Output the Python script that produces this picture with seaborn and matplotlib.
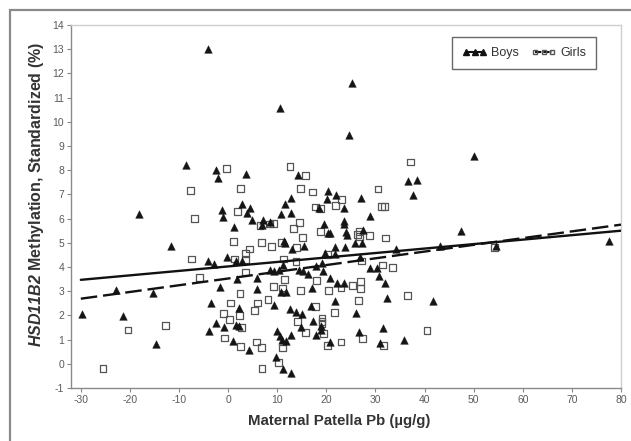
"""Scatter of HSD11B2 methylation against maternal patella lead, boys vs girls."""
import pandas as pd
import matplotlib.pyplot as plt
import seaborn as sns
from matplotlib.lines import Line2D
from matplotlib.patches import Rectangle

# boys: (patella Pb, methylation)
boys_pb = [
    -29.7, -22.9, -21.5, -18.2, -15.3, -14.6, -11.7, -8.5, -4.1, -4.1,
    -2.9, -3.5, -2.5, -3.8, -1.6, -2.4, -2.0, -1.3, -1.0, -0.9,
    -0.2, 1.0, 1.2, 1.7, 2.8, 1.8, 1.7, 2.3, 2.3, 2.9,
    3.7, 3.9, 4.4, 4.8, 4.2, 5.9, 5.9, 6.8, 7.0, 8.6,
    8.5, 9.3, 10.3, 9.3, 10.5, 10.7, 11.5, 12.7, 12.8, 11.1,
    11.3, 11.6, 13.0, 10.8, 11.7, 12.6, 13.9, 15.0, 9.9, 10.5,
    11.0, 11.8, 12.8, 9.7, 11.2, 12.7, 14.3, 14.5, 15.3, 15.5,
    16.2, 16.8, 17.1, 17.2, 14.8, 17.8, 17.8, 18.6, 19.1, 19.3,
    19.0, 18.9, 19.6, 19.8, 20.1, 20.3, 20.3, 20.8, 20.8, 20.8,
    21.7, 21.8, 21.8, 22.0, 22.1, 23.5, 23.5, 23.5, 23.6, 23.7,
    24.1, 24.3, 24.7, 25.3, 25.8, 26.1, 26.7, 26.8, 27.1, 27.2,
    27.4, 28.8, 28.9, 30.3, 30.7, 31.9, 32.3, 31.5, 31.0, 34.2,
    35.8, 36.6, 37.7, 38.5, 41.8, 43.1, 47.5, 50.1, 54.5, 77.6,
]
boys_meth = [
    2.06, 3.03, 1.99, 6.20, 2.93, 0.83, 4.88, 8.20, 13.02, 4.23,
    4.14, 2.51, 1.69, 1.35, 3.17, 8.00, 7.68, 6.34, 6.07, 1.52,
    4.41, 0.94, 5.65, 4.26, 4.25, 3.49, 1.60, 1.55, 2.31, 6.60,
    7.83, 6.23, 6.42, 5.93, 0.55, 3.55, 3.10, 5.74, 5.95, 5.87,
    3.89, 3.85, 3.89, 2.42, 10.57, 6.19, 6.62, 6.85, 6.22, 4.10,
    5.06, 5.00, 4.74, 2.95, 2.96, 2.25, 2.13, 2.06, 1.34, 1.13,
    1.00, 0.93, 1.20, 0.27, -0.22, -0.36, 7.79, 3.89, 3.85, 4.87,
    3.72, 2.40, 3.14, 1.78, 1.53, 1.21, 4.05, 6.42, 4.17, 3.82,
    1.55, 1.39, 5.78, 4.58, 6.82, 7.13, 5.41, 5.41, 3.53, 0.92,
    2.58, 4.83, 4.55, 6.99, 3.32, 6.42, 5.92, 5.77, 3.34, 4.83,
    5.46, 5.31, 9.47, 11.60, 5.00, 2.09, 1.31, 4.40, 6.85, 5.00,
    5.52, 6.09, 3.96, 3.96, 3.61, 3.34, 2.73, 1.49, 0.87, 4.73,
    1.00, 7.56, 6.99, 7.60, 2.58, 4.87, 5.47, 8.57, 4.85, 5.06,
]

girls_pb = [
    -25.5, -20.4, -12.8, -7.6, -6.9, -7.4, -5.8, -0.4, 1.9, 2.5,
    1.1, 1.3, 3.5, 3.5, 4.4, 3.5, 2.4, 0.5, 5.9, 5.4,
    -0.9, 0.3, 2.3, 2.8, -0.7, 2.5, 5.7, 6.8, 6.9, 6.8,
    6.5, 8.1, 8.5, 9.3, 8.8, 10.8, 11.3, 11.5, 9.3, 11.0,
    11.1, 10.3, 12.6, 13.3, 14.5, 15.1, 14.0, 13.8, 14.8, 14.1,
    15.7, 15.7, 14.7, 17.2, 17.8, 18.8, 18.8, 18.0, 17.8, 19.1,
    19.1, 19.1, 19.5, 20.2, 20.5, 21.7, 20.2, 21.8, 23.1, 23.0,
    23.0, 25.3, 26.5, 26.3, 26.7, 26.8, 27.0, 27.0, 27.2, 27.4,
    28.8, 30.5, 31.3, 31.8, 31.7, 32.1, 31.4, 33.5, 36.6, 37.1,
    40.5, 54.3,
]
girls_meth = [
    -0.20, 1.40, 1.59, 7.15, 6.00, 4.33, 3.57, 8.08, 6.28, 7.24,
    5.06, 4.33, 4.30, 4.55, 4.74, 3.79, 2.91, 2.51, 2.51, 2.19,
    2.07, 1.82, 1.98, 1.49, 1.07, 0.71, 0.90, 0.66, -0.21, 5.01,
    5.72, 2.65, 5.78, 5.79, 4.85, 5.00, 4.33, 3.50, 3.20, 3.13,
    0.65, 0.07, 8.16, 5.59, 5.85, 5.21, 4.79, 4.23, 3.03, 1.74,
    1.30, 7.79, 7.24, 7.10, 6.48, 6.42, 5.47, 3.44, 2.36, 1.89,
    1.75, 1.66, 1.24, 4.52, 3.03, 2.12, 0.76, 6.55, 6.78, 3.13,
    0.90, 3.23, 2.61, 5.33, 5.26, 5.47, 3.41, 3.10, 4.25, 1.03,
    5.30, 7.22, 6.50, 6.50, 0.76, 5.20, 4.08, 3.97, 2.81, 8.34,
    1.37, 4.79,
]

# fitted regression lines, read at both ends of the x range
fit_x = [-30, 80]
boys_fit = [3.47, 5.50]
girls_fit = [2.69, 5.75]

x_ticks = list(range(-30, 81, 10))
y_ticks = list(range(-1, 15))

sns.set_theme(style="white")
plt.rcParams['font.family'] = ['Liberation Sans', 'DejaVu Sans']
plt.rcParams['axes.unicode_minus'] = False
# gene name is set in bold italic; only the y label uses mathtext
plt.rcParams['mathtext.fontset'] = 'custom'
plt.rcParams['mathtext.it'] = 'Liberation Sans:italic:bold'
plt.rcParams['mathtext.rm'] = 'Liberation Sans:italic:bold'

fig = plt.figure(figsize=(6.31, 4.41), dpi=100)
ax = fig.add_axes([71 / 631, 1 - 388 / 441, 550 / 631, 363 / 441])

# grey frame round the whole figure, as in the scanned original
fig.patches.append(Rectangle((10 / 631, -0.05), 1.0, 1.05 - 10 / 441,
                             transform=fig.transFigure, fill=False,
                             edgecolor='#8a8a8a', linewidth=1.6))

boys = pd.DataFrame({'pb': boys_pb, 'meth': boys_meth})
girls = pd.DataFrame({'pb': girls_pb, 'meth': girls_meth})

sns.scatterplot(data=girls, x='pb', y='meth', marker='s', s=24,
                facecolor='none', edgecolor='#555555', linewidth=0.9,
                ax=ax, zorder=2)
sns.scatterplot(data=boys, x='pb', y='meth', marker='^', s=30,
                color='#151515', edgecolor='#151515', linewidth=0.3,
                ax=ax, zorder=3)

sns.lineplot(x=fit_x, y=boys_fit, color='#111111', linewidth=1.7,
             ax=ax, zorder=4)
ax.plot(fit_x, girls_fit, color='#111111', linewidth=1.7,
        dashes=(7, 2.5), zorder=4)

ax.set_xlim(-32, 80)
ax.set_ylim(-1, 14)
ax.set_xticks(x_ticks)
ax.set_yticks(y_ticks)
ax.tick_params(axis='both', which='major', direction='out', length=3,
               width=0.8, color='#888888', labelsize=7.5,
               labelcolor='#5a5a5a', left=True, bottom=True, pad=2)

for side in ['left', 'bottom']:
    ax.spines[side].set_color('#8a8a8a')
    ax.spines[side].set_linewidth(1.0)
for side in ['top', 'right']:
    ax.spines[side].set_color('#cfcfcf')
    ax.spines[side].set_linewidth(1.0)

ax.set_xlabel('Maternal Patella Pb (µg/g)', fontsize=10.8,
              fontweight='bold', color='#333333')
ax.set_ylabel(r'$HSD11B2$ Methylation, Standardized (%)',
              fontsize=11.5, fontweight='bold', color='#333333')
ax.xaxis.set_label_coords(0.487, -0.072)
ax.yaxis.set_label_coords(-0.045, 0.534)

handles = [
    Line2D([], [], color='#111111', linewidth=1.5, marker='^',
           markersize=4, markerfacecolor='#111111'),
    Line2D([], [], color='#111111', linewidth=1.5, linestyle=(0, (3, 1)),
           marker='s', markersize=3.5, markerfacecolor='none',
           markeredgecolor='#555555'),
]
leg = ax.legend(handles, ['Boys', 'Girls'], loc='upper right', ncol=2,
                bbox_to_anchor=(0.9545, 0.967), borderaxespad=0,
                frameon=True, fancybox=False, fontsize=9,
                handlelength=2.0, handletextpad=0.3, columnspacing=1.0,
                numpoints=3, borderpad=0.8)
leg.get_frame().set_edgecolor('#444444')
leg.get_frame().set_linewidth(1.0)
for t in leg.get_texts():
    t.set_color('#333333')

fig.savefig('out.png', dpi=100)
